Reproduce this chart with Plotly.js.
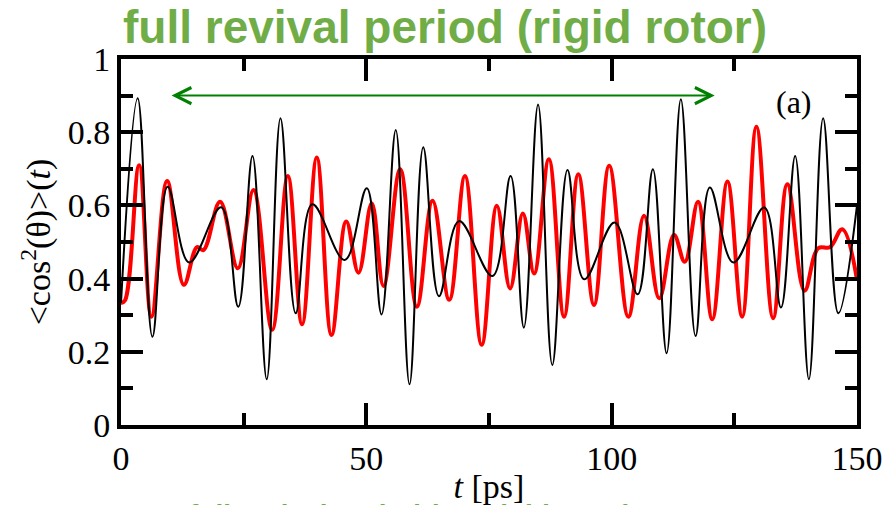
<!DOCTYPE html>
<html>
<head>
<meta charset="utf-8">
<script src="https://cdn.plot.ly/plotly-3.0.1.min.js"></script>
<style>html,body{margin:0;padding:0;background:#fff;}#chart{width:890px;height:505px;}</style>
</head>
<body>
<div id="chart"></div>
<script>
// Black curve (rigid rotor): time [ps] and <cos^2(theta)>
const tBlack = [0, 3.4, 6.4, 9.5, 13.9, 20.4, 23.9, 26.8, 29.7, 32.5, 35.6, 39.0, 45.6, 50.1, 53.1, 56.0, 58.8, 61.6, 64.8, 68.9, 75.7, 79.4, 82.1, 85.0, 87.9, 91.0, 94.4, 100.6, 105.3, 108.4, 111.2, 114.1, 117.1, 120.0, 124.8, 131.1, 134.5, 137.4, 140.2, 143.1, 146.2, 150];
const vBlack = [0.333, 0.893, 0.241, 0.651, 0.444, 0.595, 0.323, 0.735, 0.125, 0.838, 0.305, 0.603, 0.451, 0.647, 0.302, 0.806, 0.111, 0.759, 0.352, 0.557, 0.407, 0.680, 0.266, 0.876, 0.164, 0.697, 0.398, 0.553, 0.357, 0.699, 0.196, 0.890, 0.243, 0.649, 0.444, 0.594, 0.321, 0.735, 0.125, 0.838, 0.305, 0.600];

// Red curve
const tRed = [0, 0.8, 3.7, 6.2, 9.4, 12.8, 15.5, 16.8, 20.2, 23.8, 27.0, 30.8, 34.0, 36.9, 39.9, 42.9, 45.9, 48.4, 51.1, 53.5, 56.9, 60.3, 63.5, 66.9, 70.1, 73.5, 76.6, 79.3, 81.9, 84.2, 87.2, 90.3, 93.2, 96.4, 99.5, 103.4, 106.6, 109.7, 112.7, 114.9, 117.6, 120.5, 123.6, 126.6, 129.5, 132.9, 135.8, 139.3, 142.1, 144.5, 147.0, 150];
const vRed = [0.333, 0.340, 0.710, 0.296, 0.667, 0.383, 0.486, 0.478, 0.610, 0.428, 0.642, 0.260, 0.680, 0.275, 0.731, 0.246, 0.556, 0.416, 0.606, 0.380, 0.699, 0.323, 0.613, 0.342, 0.680, 0.219, 0.599, 0.373, 0.578, 0.414, 0.726, 0.296, 0.685, 0.328, 0.708, 0.296, 0.572, 0.346, 0.519, 0.446, 0.610, 0.289, 0.665, 0.296, 0.815, 0.292, 0.658, 0.367, 0.483, 0.486, 0.535, 0.396];

// Revival period arrow (start, end) in ps and its height
const revivalSpan = [10, 121];
const revivalLevel = 0.9;

const xTickVals = [0, 50, 100, 150];
const yTickVals = [0, 0.2, 0.4, 0.6, 0.8, 1];

const serif = '"Liberation Serif", "Times New Roman", serif';

const traces = [
  {x: tRed, y: vRed, type: 'scatter', mode: 'lines',
   line: {color: '#ff0000', width: 4, shape: 'spline', smoothing: 1.1}, hoverinfo: 'skip'},
  {x: tBlack, y: vBlack, type: 'scatter', mode: 'lines',
   line: {color: '#000000', width: 2, shape: 'spline', smoothing: 1.1}, hoverinfo: 'skip'}
];

const axisCommon = {
  showline: true, linecolor: '#000', linewidth: 4, mirror: 'allticks',
  ticks: 'inside', ticklen: 22, tickwidth: 4, tickcolor: '#000',
  showgrid: false, zeroline: false,
  tickfont: {family: serif, size: 34, color: '#000'}
};

const layout = {
  width: 890, height: 505,
  margin: {l: 121, r: 33, t: 59, b: 80},
  paper_bgcolor: '#fff', plot_bgcolor: '#fff',
  showlegend: false,
  xaxis: Object.assign({}, axisCommon, {
    range: [0, 150], tickvals: xTickVals,
    minor: {dtick: 25, ticks: 'inside', ticklen: 12, tickwidth: 4, tickcolor: '#000', showgrid: false},
    title: {text: '<i>t</i> [ps]', font: {family: serif, size: 34, color: '#000'}, standoff: 2}
  }),
  yaxis: Object.assign({}, axisCommon, {
    range: [0, 1], tickvals: yTickVals,
    minor: {dtick: 0.1, ticks: 'inside', ticklen: 12, tickwidth: 4, tickcolor: '#000', showgrid: false},
    title: {text: '&lt;cos<sup>2</sup>(θ)&gt;(<i>t</i>)', font: {family: serif, size: 34, color: '#000'}, standoff: 8}
  }),
  annotations: [
    {xref: 'paper', yref: 'paper', x: 0, y: 1.088, xanchor: 'left', yanchor: 'middle', xshift: 0,
     text: '<b>full revival period (rigid rotor)</b>', showarrow: false,
     font: {family: '"Liberation Sans", Arial, sans-serif', size: 46, color: '#70AD47'}},
    {xref: 'x', yref: 'y', axref: 'x', ayref: 'y',
     x: revivalSpan[1], y: revivalLevel, ax: revivalSpan[0], ay: revivalLevel,
     text: '', showarrow: true, arrowhead: 5, startarrowhead: 5, arrowside: 'end+start',
     arrowsize: 1.6, startarrowsize: 1.6, arrowwidth: 2, arrowcolor: '#008000', standoff: 0, startstandoff: 0},
    {xref: 'x', yref: 'y', x: 137.2, y: 0.8825, text: '(a)', showarrow: false,
     font: {family: serif, size: 32, color: '#000'}},
    {xref: 'paper', yref: 'paper', x: 0.09, y: -0.196, xanchor: 'left', yanchor: 'top',
     text: '<b>full revival period (nonrigid rotor)</b>', showarrow: false,
     font: {family: '"Liberation Sans", Arial, sans-serif', size: 28, color: '#70AD47'}}
  ]
};

Plotly.newPlot('chart', traces, layout, {displayModeBar: false, staticPlot: true});
</script>
</body>
</html>
